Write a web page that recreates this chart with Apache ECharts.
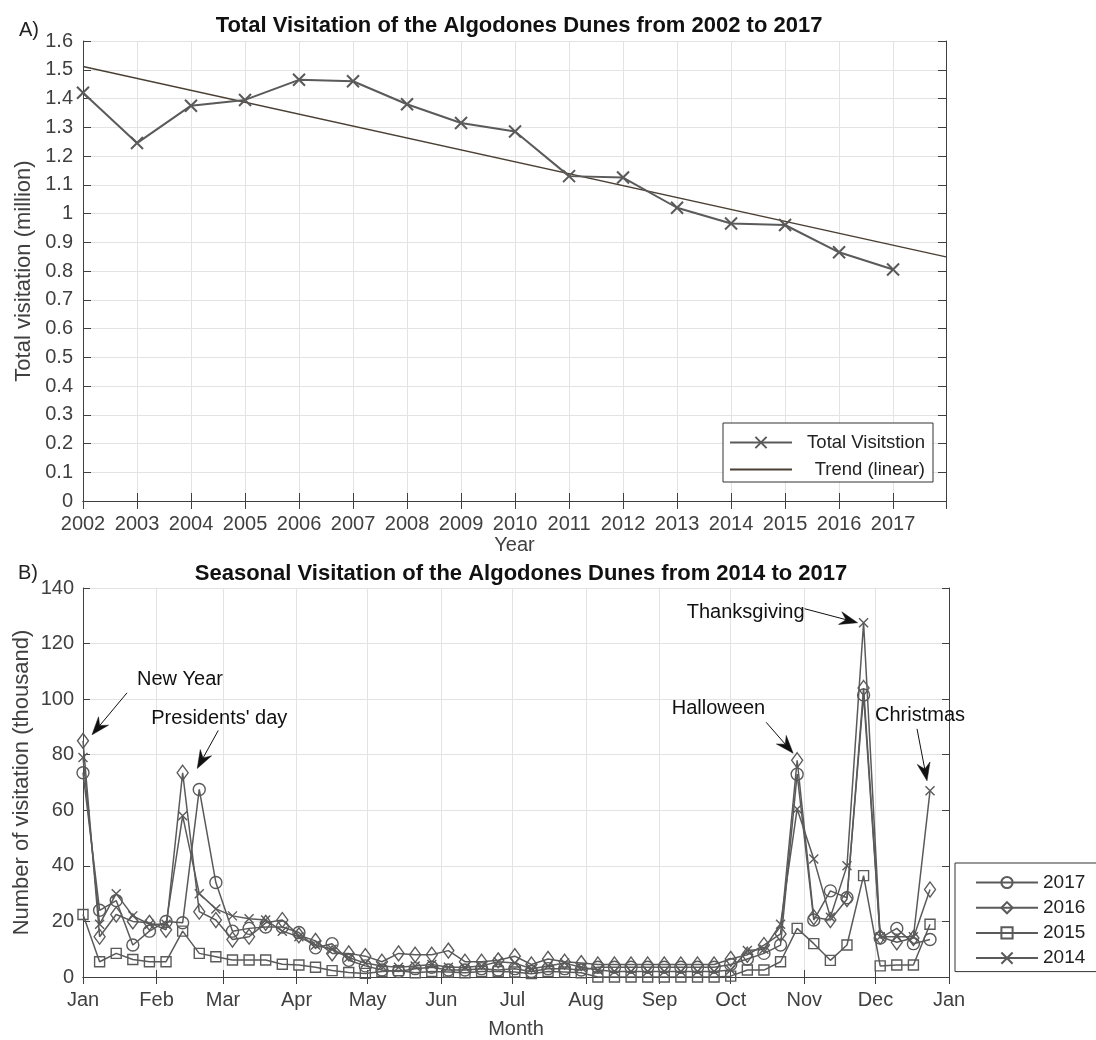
<!DOCTYPE html>
<html>
<head>
<meta charset="utf-8">
<script src="https://cdn.jsdelivr.net/npm/echarts@6/dist/echarts.min.js"></script>
<style>
  html, body { margin: 0; padding: 0; background: #ffffff; }
  #chart { width: 1096px; height: 1040px; }
</style>
</head>
<body>
<div id="chart"></div>
<script>
// ---- Panel A: annual totals (million visits) ----
const years = [2002, 2003, 2004, 2005, 2006, 2007, 2008, 2009, 2010, 2011, 2012, 2013, 2014, 2015, 2016, 2017];
const totalVisits = [1.42, 1.245, 1.375, 1.395, 1.465, 1.46, 1.38, 1.315, 1.285, 1.13, 1.125, 1.02, 0.965, 0.96, 0.865, 0.805];

// ---- Panel B: weekly visits (thousand), by day of year of each week ----
const monthNames = ['Jan', 'Feb', 'Mar', 'Apr', 'May', 'Jun', 'Jul', 'Aug', 'Sep', 'Oct', 'Nov', 'Dec'];
const weekDays = [0, 7, 14, 21, 28, 35, 42, 49, 56, 63, 70, 77, 84, 91, 98, 105, 112, 119, 126, 133,
  140, 147, 154, 161, 168, 175, 182, 189, 196, 203, 210, 217, 224, 231, 238, 245, 252, 259, 266, 273,
  280, 287, 294, 301, 308, 315, 322, 329, 336, 343, 350, 357];
const visits2017 = [73.5, 24, 27.5, 11.5, 16.5, 20, 19.5, 67.5, 34, 16.5,
  17.5, 18, 18, 16, 10.5, 12, 6, 4, 2.5, 2,
  3, 3.5, 2.5, 2.5, 3, 2.5, 3, 2, 3, 3,
  2.5, 3.5, 3.5, 3.5, 3.5, 3.5, 3.5, 3.5, 3.5, 4.5,
  6.5, 8.5, 11.5, 73, 20.5, 31, 28.5, 101.5, 14, 17.5,
  12, 13.5];
const visits2016 = [85, 14.5, 22.5, 20, 19.5, 17, 73.5, 23.5, 20.5, 13.5,
  14.5, 19.5, 20.5, 15, 13, 8.5, 8.5, 7.5, 5.5, 8.5,
  8, 8, 9.5, 5.5, 5.5, 6, 7.5, 4.5, 6.5, 5.5,
  5, 4.5, 4.5, 4.5, 4.5, 4.5, 4.5, 4.5, 4.5, 6.5,
  8, 11.5, 15.5, 78, 21.5, 20.5, 28, 104, 14.5, 12.5,
  14, 31.5];
const visits2015 = [22.5, 5.5, 8.5, 6.3, 5.5, 5.5, 16.5, 8.5, 7.3, 6.1,
  6.1, 6.1, 4.6, 4.3, 3.5, 2.3, 1.6, 1.3, 2, 2.3,
  1.5, 2, 1.8, 1.5, 2, 2, 1.8, 1.2, 2, 1.8,
  1.5, 0, 0, 0, 0, 0, 0, 0, 0, 0.3,
  2.5, 2.5, 5.5, 17.5, 12, 6, 11.5, 36.5, 4, 4.3,
  4.3, 19];
const visits2014 = [79, 19, 30, 22, 19, 19, 58, 30, 24.5, 22,
  21, 20.5, 16.5, 14.5, 11.5, 10, 7, 5, 4, 3.5,
  4, 4.5, 3.5, 3.5, 4, 5.5, 5, 3, 4, 5,
  3.5, 2.5, 2, 2, 2, 2, 2, 2, 2, 2.5,
  9.5, 10, 19, 60.5, 42.5, 21.5, 40, 127.5, 14.5, 14.5,
  14.5, 67];

// Holiday call-outs: which point each arrow points at, plus layout offsets (px)
const holidayNotes = [
  { text: 'New Year',        series: visits2016, week: 0,  tip: [9, -6],   tail: [35, -42],  label: [45, -55],  align: 'left'  },
  { text: "Presidents' day", series: visits2017, week: 7,  tip: [-2, -21], tail: [21, -38],  label: [-46, -50], align: 'left'  },
  { text: 'Halloween',       series: visits2016, week: 43, tip: [-4, -7],  tail: [-27, -31], label: [-28, -45], align: 'right' },
  { text: 'Thanksgiving',    series: visits2014, week: 47, tip: [-6, 0],   tail: [-53, -14], label: [-53, -10], align: 'right' },
  { text: 'Christmas',       series: visits2014, week: 51, tip: [-3, -10], tail: [-10, -52], label: [-52, -65], align: 'left'  }
];

// ---- helpers ----
const FONT = 'Liberation Sans, Arial, Helvetica, sans-serif';
const AXIS_COLOR = '#404040';
const LINE_COLOR = '#5a5a5a';
const DAY = 24 * 3600 * 1000;
const yearStart = new Date(2015, 0, 1).getTime();   // any non-leap year works for the week axis
const yearEnd = new Date(2016, 0, 1).getTime();
const weekTimes = weekDays.map(d => yearStart + d * DAY);
const pairs = (xs, ys) => xs.map((x, i) => [x, ys[i]]);

// least-squares trend of the annual totals
const n = years.length;
const mx = years.reduce((a, b) => a + b, 0) / n;
const my = totalVisits.reduce((a, b) => a + b, 0) / n;
let sxy = 0, sxx = 0;
years.forEach((x, i) => { sxy += (x - mx) * (totalVisits[i] - my); sxx += (x - mx) * (x - mx); });
const slope = sxy / sxx;
const trendAt = x => my + slope * (x - mx);
const xMaxA = 2017.98;

const crossPath = 'path://M0,0L10,10M10,0L0,10';

function markerStyle() {
  return { color: 'rgba(0,0,0,0)', borderColor: LINE_COLOR, borderWidth: 1.4 };
}

const tickLabel = { color: AXIS_COLOR, fontFamily: FONT, fontSize: 20 };
const axisLineStyle = { show: true, lineStyle: { color: AXIS_COLOR, width: 1 } };
const gridLine = { show: true, lineStyle: { color: '#e3e3e3', width: 1 } };
const xNameStyle = { color: AXIS_COLOR, fontFamily: FONT, fontSize: 20 };
const yNameStyle = { color: AXIS_COLOR, fontFamily: FONT, fontSize: 22 };

function mirror(base, pos) {
  return Object.assign({}, base, {
    position: pos,
    name: '',
    axisLabel: { show: false },
    splitLine: { show: false },
    axisTick: Object.assign({}, base.axisTick),
    axisLine: axisLineStyle
  });
}

// Panel A axes
const xA = {
  type: 'value', gridIndex: 0, min: 2002, max: xMaxA, interval: 1,
  axisLine: axisLineStyle,
  axisTick: { show: true, inside: true, length: 8, lineStyle: { color: AXIS_COLOR } },
  axisLabel: Object.assign({}, tickLabel, {
    margin: 13, showMaxLabel: false,
    formatter: v => (Number.isInteger(v) ? String(v) : '')
  }),
  splitLine: gridLine,
  name: 'Year', nameLocation: 'middle', nameGap: 34, nameMoveOverlap: false,
  nameTextStyle: xNameStyle
};
const yA = {
  type: 'value', gridIndex: 0, min: 0, max: 1.6, interval: 0.1,
  axisLine: axisLineStyle,
  axisTick: { show: true, inside: true, length: 8, lineStyle: { color: AXIS_COLOR } },
  axisLabel: Object.assign({}, tickLabel, { margin: 10 }),
  splitLine: gridLine,
  name: 'Total visitation (million)', nameLocation: 'middle', nameGap: 48, nameMoveOverlap: false,
  nameTextStyle: yNameStyle
};

// Panel B axes
const xB = {
  type: 'time', gridIndex: 1, min: yearStart, max: yearEnd, splitNumber: 12,
  minInterval: 28 * DAY, maxInterval: 31 * DAY,
  axisLine: axisLineStyle,
  axisTick: { show: true, inside: true, length: 7, lineStyle: { color: AXIS_COLOR } },
  axisLabel: Object.assign({}, tickLabel, {
    margin: 13, showMinLabel: true, showMaxLabel: true, hideOverlap: false,
    formatter: v => monthNames[new Date(v).getMonth()]
  }),
  splitLine: gridLine,
  name: 'Month', nameLocation: 'middle', nameGap: 42, nameMoveOverlap: false,
  nameTextStyle: xNameStyle
};
const yB = {
  type: 'value', gridIndex: 1, min: 0, max: 140, interval: 20,
  axisLine: axisLineStyle,
  axisTick: { show: true, inside: true, length: 7, lineStyle: { color: AXIS_COLOR } },
  axisLabel: Object.assign({}, tickLabel, { margin: 9 }),
  splitLine: gridLine,
  name: 'Number of visitation (thousand)', nameLocation: 'middle', nameGap: 50, nameMoveOverlap: false,
  nameTextStyle: yNameStyle
};

function weeklySeries(name, values, symbol, size) {
  return {
    name: name, type: 'line', xAxisIndex: 2, yAxisIndex: 2,
    data: pairs(weekTimes, values),
    symbol: symbol, symbolSize: size, showAllSymbol: true,
    lineStyle: { color: LINE_COLOR, width: 1.5 },
    itemStyle: markerStyle(),
    emphasis: { disabled: true }
  };
}

const option = {
  animation: false,
  backgroundColor: '#ffffff',
  textStyle: { fontFamily: FONT },
  title: [
    { text: 'Total Visitation of the Algodones Dunes from 2002 to 2017', left: 514, top: 10, textAlign: 'center',
      textStyle: { fontFamily: FONT, fontSize: 22, fontWeight: 'bold', color: '#111' } },
    { text: 'Seasonal Visitation of the Algodones Dunes from 2014 to 2017', left: 516, top: 558, textAlign: 'center',
      textStyle: { fontFamily: FONT, fontSize: 22, fontWeight: 'bold', color: '#111' } },
    { text: 'A)', left: 14, top: 15, textStyle: { fontFamily: FONT, fontSize: 20, fontWeight: 'normal', color: '#222' } },
    { text: 'B)', left: 13, top: 558, textStyle: { fontFamily: FONT, fontSize: 20, fontWeight: 'normal', color: '#222' } }
  ],
  grid: [
    { left: 83, top: 41, width: 863, height: 460 },
    { left: 83, top: 588, width: 866, height: 389 }
  ],
  xAxis: [xA, mirror(xA, 'top'), xB, mirror(xB, 'top')],
  yAxis: [yA, mirror(yA, 'right'), yB, mirror(yB, 'right')],
  legend: [
    {
      data: ['Total Visitstion', { name: 'Trend (linear)', itemStyle: { opacity: 0 } }],
      orient: 'vertical', left: 723, top: 423,
      padding: [10, 8, 3, 6], itemGap: 8, itemWidth: 62, itemHeight: 14,
      borderColor: '#333', borderWidth: 1, backgroundColor: '#fff',
      selectedMode: false,
      formatter: name => '{r|' + name + '}',
      textStyle: { rich: { r: { width: 128, align: 'right', fontFamily: FONT, fontSize: 18.5, color: '#222' } } }
    },
    {
      data: ['2017', '2016', '2015', '2014'],
      orient: 'vertical', left: 955, top: 863,
      padding: [10, 80, 4, 20], itemGap: 6.2, itemWidth: 62, itemHeight: 14,
      borderColor: '#333', borderWidth: 1, backgroundColor: '#fff',
      selectedMode: false,
      textStyle: { fontFamily: FONT, fontSize: 19, color: '#222' }
    }
  ],
  series: [
    {
      name: 'Total Visitstion', type: 'line', xAxisIndex: 0, yAxisIndex: 0,
      data: pairs(years, totalVisits),
      symbol: crossPath, symbolSize: 12,
      lineStyle: { color: LINE_COLOR, width: 2 },
      itemStyle: { color: 'rgba(0,0,0,0)', borderColor: LINE_COLOR, borderWidth: 2 },
      emphasis: { disabled: true }, z: 3
    },
    {
      name: 'Trend (linear)', type: 'line', xAxisIndex: 0, yAxisIndex: 0,
      data: [[years[0], trendAt(years[0])], [xMaxA, trendAt(xMaxA)]],
      symbol: 'none',
      lineStyle: { color: '#4a3f33', width: 1.3 },
      itemStyle: { color: '#4a3f33' },
      emphasis: { disabled: true }, z: 2
    },
    weeklySeries('2017', visits2017, 'circle', 12),
    weeklySeries('2016', visits2016, 'diamond', [11, 15]),
    weeklySeries('2015', visits2015, 'rect', 10),
    weeklySeries('2014', visits2014, crossPath, 9)
  ]
};

const chart = echarts.init(document.getElementById('chart'), null, { renderer: 'canvas' });
chart.setOption(option);

// Arrow call-outs anchored to the points they describe
function arrowGraphics(note) {
  const p = chart.convertToPixel({ xAxisIndex: 2, yAxisIndex: 2 }, [weekTimes[note.week], note.series[note.week]]);
  const tip = [p[0] + note.tip[0], p[1] + note.tip[1]];
  const tail = [tip[0] + note.tail[0], tip[1] + note.tail[1]];
  const dx = tip[0] - tail[0], dy = tip[1] - tail[1];
  const len = Math.sqrt(dx * dx + dy * dy);
  const ux = dx / len, uy = dy / len, nx = -uy, ny = ux;
  const L = 18, W = 6.5, notch = 6;
  const back = [tip[0] - L * ux, tip[1] - L * uy];
  const head = [
    tip,
    [back[0] + W * nx, back[1] + W * ny],
    [tip[0] - (L - notch) * ux, tip[1] - (L - notch) * uy],
    [back[0] - W * nx, back[1] - W * ny]
  ];
  const shaftEnd = [tip[0] - (L - notch) * ux, tip[1] - (L - notch) * uy];
  return [
    { type: 'line', shape: { x1: tail[0], y1: tail[1], x2: shaftEnd[0], y2: shaftEnd[1] },
      style: { stroke: '#111', lineWidth: 1 }, z: 50 },
    { type: 'polygon', shape: { points: head }, style: { fill: '#111', stroke: '#111', lineWidth: 0.5 }, z: 50 },
    { type: 'text', x: tip[0] + note.label[0], y: tip[1] + note.label[1],
      style: { text: note.text, fill: '#111', font: '20px ' + FONT, textAlign: note.align, textVerticalAlign: 'middle' },
      z: 50 }
  ];
}

chart.setOption({ graphic: holidayNotes.flatMap(arrowGraphics) });
</script>
</body>
</html>
